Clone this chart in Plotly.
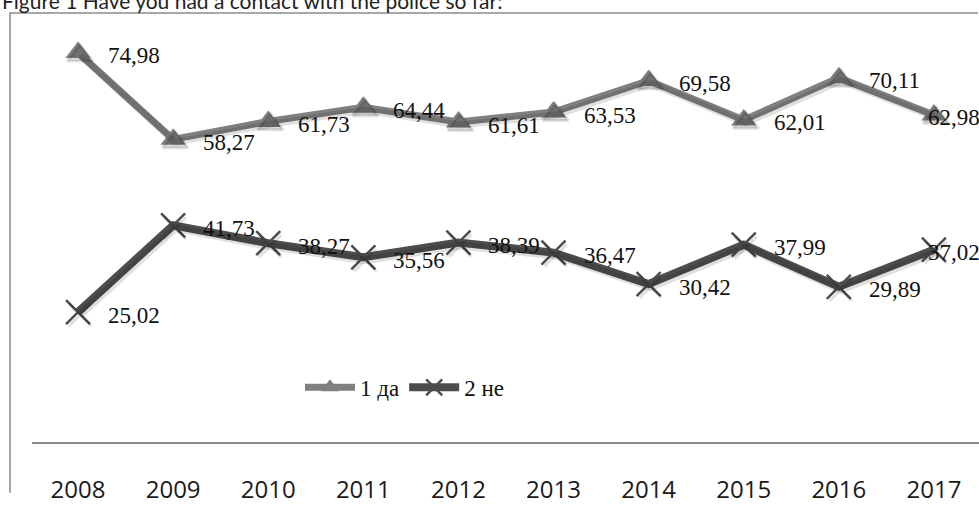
import plotly.graph_objects as go

# ---- data ----
years = ["2008", "2009", "2010", "2011", "2012", "2013", "2014", "2015", "2016", "2017"]
da = [74.98, 58.27, 61.73, 64.44, 61.61, 63.53, 69.58, 62.01, 70.11, 62.98]
ne = [25.02, 41.73, 38.27, 35.56, 38.39, 36.47, 30.42, 37.99, 29.89, 37.02]
series_names = ["1 да", "2 не"]
title_text = "Figure 1 Have you had a contact with the police so far:"

# ---- layout geometry ----
W, H = 979, 505
ML, MR, MT, MB = 32, 0, 13, 52
xr = [-0.484, 9.474]
yr = [0, 82.6]
pw, ph = W - ML - MR, H - MT - MB
xunit = (xr[1] - xr[0]) / pw
yunit = (yr[1] - yr[0]) / ph
sdx, sdy = 2, 3  # shadow offset in px
xr2 = [xr[0] - sdx * xunit, xr[1] - sdx * xunit]
yr2 = [yr[0] + sdy * yunit, yr[1] + sdy * yunit]

xi = list(range(len(years)))

c_da = "#808080"
c_ne = "#4d4d4d"
serif = "Liberation Serif"
sans = "Open Sans"

fig = go.Figure()

# shadows
for vals, sym, lw in [(da, "triangle-up", 7), (ne, "x-thin", 8)]:
    fig.add_trace(go.Scatter(
        x=xi, y=vals, xaxis="x2", yaxis="y2", mode="lines+markers",
        line=dict(color="rgba(0,0,0,0.12)", width=lw),
        marker=dict(symbol=sym, size=22, color="rgba(0,0,0,0.12)",
                    line=dict(width=3, color="rgba(0,0,0,0.12)")),
        showlegend=False, hoverinfo="skip", cliponaxis=False))

fig.add_trace(go.Scatter(
    x=xi, y=da, name=series_names[0], mode="lines+markers",
    line=dict(color=c_da, width=7),
    marker=dict(symbol="triangle-up", size=22, color=c_da, line=dict(width=0)),
    cliponaxis=False))
fig.add_trace(go.Scatter(
    x=xi, y=ne, name=series_names[1], mode="lines+markers",
    line=dict(color=c_ne, width=8),
    marker=dict(symbol="x-thin", size=24, color=c_ne, line=dict(width=2.5, color=c_ne)),
    cliponaxis=False))

annotations = []
for vals in (da, ne):
    for i, v in enumerate(vals):
        last = i == len(vals) - 1
        annotations.append(dict(
            x=i, y=v, xref="x", yref="y", text=f"{v:.2f}".replace(".", ","),
            showarrow=False, xanchor="left", yanchor="middle",
            xshift=-8 if last else 28, yshift=-3,
            font=dict(family=serif, size=23, color="#111111")))

annotations.append(dict(
    x=(0 - ML) / pw, y=(H - MB - 15) / ph, xref="paper", yref="paper",
    text=title_text, showarrow=False, xanchor="left", yanchor="bottom",
    font=dict(family="Lato", size=21, color="#222222")))

fx0 = (10 - ML) / pw
fx1 = (978 - ML) / pw
fyb = (H - MB - H) / ph
frame = dict(type="path", xref="paper", yref="paper",
             path=f"M {fx0},{fyb} L {fx0},1 L {fx1},1",
             line=dict(color="#8c8c8c", width=1.5))

fig.update_layout(
    width=W, height=H,
    margin=dict(l=ML, r=MR, t=MT, b=MB),
    paper_bgcolor="white", plot_bgcolor="white",
    xaxis=dict(range=xr, tickvals=xi, ticktext=years, showgrid=False, zeroline=False,
               showline=True, linecolor="#8c8c8c", linewidth=2, ticks="",
               tickfont=dict(family=sans, size=24, color="#1a1a1a"),
               ticklabelstandoff=25, fixedrange=True),
    yaxis=dict(range=yr, visible=False, showgrid=False, zeroline=False),
    xaxis2=dict(range=xr2, overlaying="x", visible=False),
    yaxis2=dict(range=yr2, overlaying="y", visible=False),
    legend=dict(orientation="h", x=(300 - ML) / pw, y=(H - MB - 397) / ph,
                xanchor="left", yanchor="middle", bgcolor="rgba(0,0,0,0)",
                font=dict(family=serif, size=23, color="#111111"),
                itemwidth=50, tracegroupgap=0),
    annotations=annotations,
    shapes=[frame],
    showlegend=True,
)

fig.write_html(
    "out.html",
    config={"displayModeBar": False},
    post_script="document.body.style.margin='0';document.body.style.overflow='hidden';",
)
